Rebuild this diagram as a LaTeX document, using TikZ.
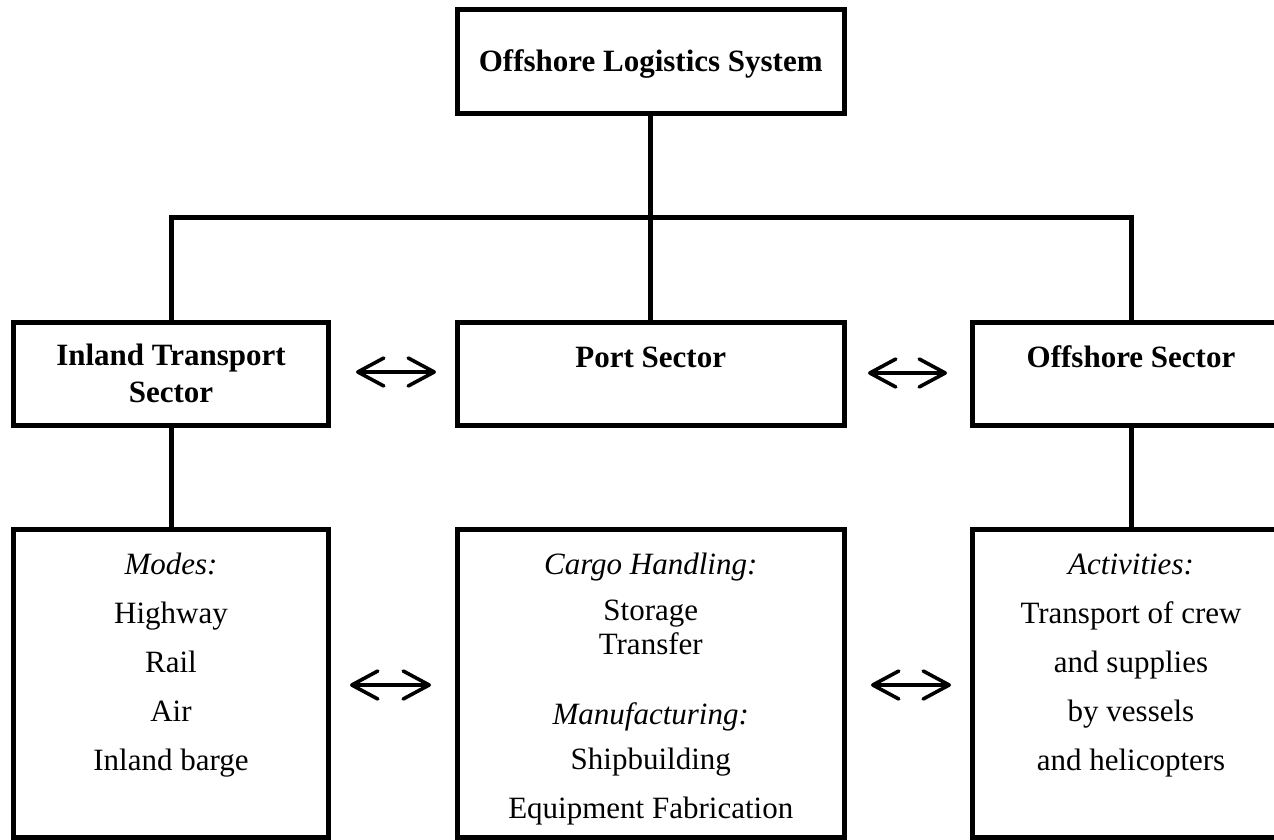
\documentclass[tikz,border=0pt]{standalone}
\usepackage{fontspec}
\setmainfont{Liberation Serif}
\usetikzlibrary{arrows.meta}
\begin{document}
\begin{tikzpicture}[x=1pt,y=-1pt,
  box/.style={draw, line width=5pt, inner sep=0pt, outer sep=0pt},
  conn/.style={line width=5pt},
  dbl/.style={line width=3.6pt, line cap=round,
    {Straight Barb[length=26pt,width=28pt,line cap=round,line join=round]}-{Straight Barb[length=26pt,width=28pt,line cap=round,line join=round]}},
  txt/.style={font=\fontsize{31}{37}\selectfont, anchor=base, inner sep=0pt},
  btxt/.style={txt, font=\fontsize{31}{37}\selectfont\bfseries},
  itxt/.style={txt, font=\fontsize{31}{37}\selectfont\itshape}]
\useasboundingbox (0,0) rectangle (1274,840);
\clip (0,0) rectangle (1274,840);
% boxes
\node[box, minimum width=387.5pt, minimum height=104.5pt] (top) at (650.75,61.75) {};
\node[box, minimum width=315pt, minimum height=102.5pt] (inl) at (171,373.75) {};
\node[box, minimum width=387.5pt, minimum height=102.5pt] (port) at (650.75,373.75) {};
\node[box, minimum width=317pt, minimum height=102.5pt] (off) at (1131,373.75) {};
\node[box, minimum width=315pt, minimum height=308pt] (inlb) at (171,683.5) {};
\node[box, minimum width=387.5pt, minimum height=308pt] (portb) at (650.75,683.5) {};
\node[box, minimum width=317pt, minimum height=308pt] (offb) at (1131,683.5) {};
% connectors
\coordinate (bar) at (650.75,217.5);
\draw[conn] (top.south) -- (port.north);
\draw[conn] (inl.north) |- (bar) -| (off.north);
\draw[conn] (inl.south) -- (inlb.north);
\draw[conn] (off.south) -- (offb.north);
% double arrows
\coordinate (a1l) at (356,372); \coordinate (a1r) at (436,372);
\coordinate (a2l) at (868,373); \coordinate (a2r) at (947,373);
\coordinate (b1l) at (350,685); \coordinate (b1r) at (431,685);
\coordinate (b2l) at (871,685); \coordinate (b2r) at (951,685);
\draw[dbl] (a1l) -- (a1r);
\draw[dbl] (a2l) -- (a2r);
\draw[dbl] (b1l) -- (b1r);
\draw[dbl] (b2l) -- (b2r);
% texts
\node[btxt] (t0) at (650.75,72) {Offshore Logistics System};
\node[btxt] (t1) at (171,365) {Inland Transport};
\node[btxt] (t2) at (171,402) {Sector};
\node[btxt] (t3) at (650.75,367) {Port Sector};
\node[btxt] (t4) at (1131,367) {Offshore Sector};
% bottom left
\node[itxt] (m0) at (171,574) {Modes:};
\node[txt] (m1) at (171,623) {Highway};
\node[txt] (m2) at (171,672) {Rail};
\node[txt] (m3) at (171,721) {Air};
\node[txt] (m4) at (171,770) {Inland barge};
% bottom middle
\node[itxt] (c0) at (650.75,574) {Cargo Handling:};
\node[txt] (c1) at (650.75,620) {Storage};
\node[txt] (c2) at (650.75,654) {Transfer};
\node[itxt] (c3) at (650.75,724) {Manufacturing:};
\node[txt] (c4) at (650.75,769) {Shipbuilding};
\node[txt] (c5) at (650.75,818) {Equipment Fabrication};
% bottom right
\node[itxt] (r0) at (1131,574) {Activities:};
\node[txt] (r1) at (1131,623) {Transport of crew};
\node[txt] (r2) at (1131,672) {and supplies};
\node[txt] (r3) at (1131,721) {by vessels};
\node[txt] (r4) at (1131,770) {and helicopters};
\end{tikzpicture}
\end{document}
